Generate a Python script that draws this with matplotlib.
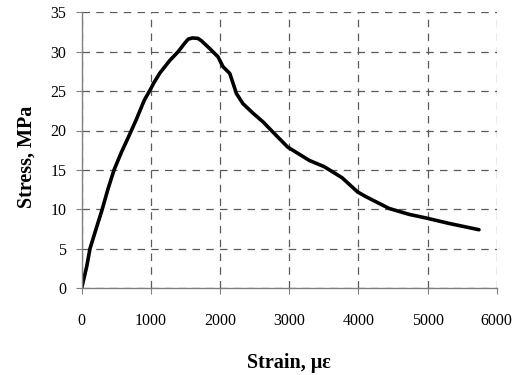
import matplotlib.pyplot as plt

# values
strain = [0, 72, 120, 215, 297, 381, 468, 577, 662, 785, 905, 986, 1040, 1130,
          1274, 1394, 1490, 1540, 1600, 1680, 1730, 1851, 1971, 2043, 2140, 2188,
          2236, 2332, 2476, 2621, 2742, 2977, 3290, 3507, 3764, 3988, 4108, 4444,
          4733, 4973, 5310, 5743]
stress = [0, 2.7, 5.0, 7.7, 10.0, 12.6, 15.0, 17.3, 18.9, 21.3, 23.85, 25.1, 26.0,
          27.3, 28.9, 30.0, 31.1, 31.6, 31.75, 31.7, 31.4, 30.4, 29.35, 28.1, 27.25,
          26.0, 24.7, 23.4, 22.2, 21.1, 20.0, 17.9, 16.2, 15.4, 14.0, 12.2, 11.6, 10.1,
          9.35, 8.9, 8.2, 7.4]

xticks = [0, 1000, 2000, 3000, 4000, 5000, 6000]
yticks = [0, 5, 10, 15, 20, 25, 30, 35]

plt.rcParams['font.family'] = ['Liberation Serif', 'DejaVu Serif']

fig = plt.figure(figsize=(5.18, 3.75), dpi=100)
ax = fig.add_axes([0.1577, 0.232, 0.8013, 0.735])

ax.plot(strain, stress, color='black', lw=2.6, solid_joinstyle='round',
        solid_capstyle='round')

ax.set_xlim(0, 6000)
ax.set_ylim(0, 35)
ax.set_xticks(xticks)
ax.set_yticks(yticks)
ax.grid(True, color='#5a5a5a', ls=(0, (6, 5)), lw=0.9)
ax.set_axisbelow(True)

for s in ['top', 'right']:
    ax.spines[s].set_visible(False)
for s in ['left', 'bottom']:
    ax.spines[s].set_color('#808080')
    ax.spines[s].set_linewidth(1.0)

ax.tick_params(axis='x', length=4, color='#808080', pad=14, labelsize=11.5)
ax.tick_params(axis='y', length=4, color='#808080', pad=7, labelsize=11.5)

ax.set_xlabel('Strain, με', fontsize=14.5, fontweight='bold', labelpad=17)
ax.set_ylabel('Stress, MPa', fontsize=14.5, fontweight='bold')
ax.yaxis.set_label_coords(-0.108, 0.475)

fig.savefig('out.png', dpi=100)
